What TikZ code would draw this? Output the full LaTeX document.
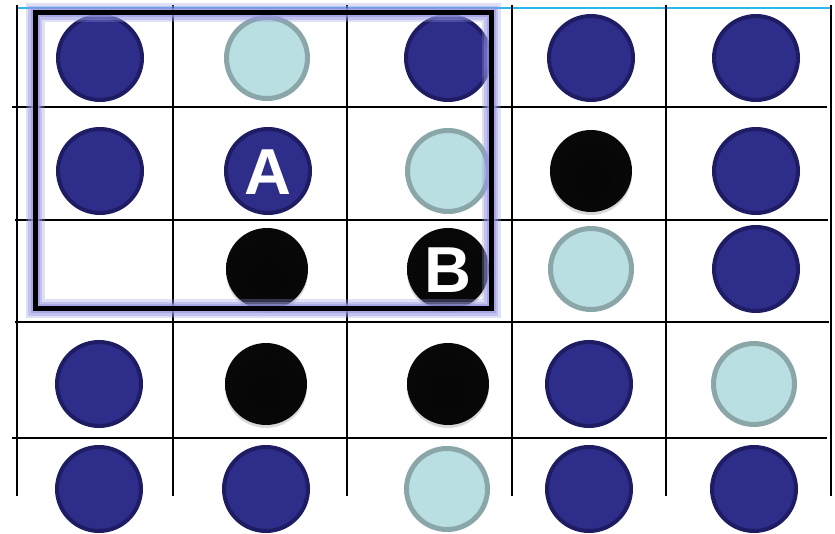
\documentclass[tikz,border=0pt]{standalone}
\usepackage{fontspec}
\setsansfont{Liberation Sans}
\usetikzlibrary{shadows}

\definecolor{stoneblue}{HTML}{2E2D89}
\definecolor{stoneblueedge}{HTML}{1E1C63}
\definecolor{stonelight}{HTML}{B9DFE2}
\definecolor{stonelightedge}{HTML}{8BA6A8}
\definecolor{topline}{HTML}{2AB8EA}
\definecolor{glow}{HTML}{9696E2}

\pgfdeclareradialshading{blackstoneshade}{\pgfpoint{0bp}{-6bp}}{%
  color(0bp)=(black!98); color(45bp)=(black!96); color(51bp)=(black!72); color(58bp)=(black!50)}

\begin{document}
\begin{tikzpicture}[
    x=1pt, y=-1pt,
    blue stone/.style={circle,draw=stoneblueedge,fill=stoneblue,line width=4pt,minimum size=84pt,inner sep=0pt},
    light stone/.style={circle,draw=stonelightedge,fill=stonelight,line width=5pt,minimum size=81pt,inner sep=0pt},
    black stone/.style={circle,shading=blackstoneshade,minimum size=82pt,inner sep=0pt,
      drop shadow={opacity=0.3,shadow xshift=0pt,shadow yshift=-3pt}},
    stone label/.style={text=white,font=\sffamily\bfseries\fontsize{65}{65}\selectfont},
    grid line/.style={draw=black,line width=1.6pt}
  ]
    \useasboundingbox (0,0) rectangle (835,534);

    % Board lines
    \draw[topline,line width=2pt] (17,8) -- (831,8);
    \draw[grid line] (12,107) -- (827,107);
    \draw[grid line] (15,220) -- (828,220);
    \draw[grid line] (15,322) -- (829,322);
    \draw[grid line] (12,438) -- (827,438);
    \draw[grid line] (17,5) -- (17,496);
    \draw[grid line] (173,5) -- (173,496);
    \draw[grid line] (347,5) -- (347,496);
    \draw[grid line] (512,5) -- (512,496);
    \draw[grid line] (666,5) -- (666,496);
    \draw[grid line] (831,5) -- (831,496);

    % Row 1
    \node[blue stone]  (s11) at (100,58) {};
    \node[light stone] (s12) at (267,58) {};
    \node[blue stone]  (s13) at (448,58) {};
    \node[blue stone]  (s14) at (591,58) {};
    \node[blue stone]  (s15) at (756,58) {};

    % Row 2
    \node[blue stone]  (s21) at (100,171) {};
    \node[blue stone]  (A)   at (268,171) {};
    \node[light stone] (s23) at (448,171) {};
    \node[black stone] (s24) at (591,171) {};
    \node[blue stone]  (s25) at (756,171) {};

    % Row 3
    \node[black stone] (s32) at (267,269) {};
    \node[black stone] (B)   at (448,269) {};
    \node[light stone] (s34) at (591,269) {};
    \node[blue stone]  (s35) at (756,269) {};

    % Row 4
    \node[blue stone]  (s41) at (99,384) {};
    \node[black stone] (s42) at (266,384) {};
    \node[black stone] (s43) at (448,384) {};
    \node[blue stone]  (s44) at (589,384) {};
    \node[light stone] (s45) at (754,384) {};

    % Row 5
    \node[blue stone]  (s51) at (99,489) {};
    \node[blue stone]  (s52) at (266,489) {};
    \node[light stone] (s53) at (447,489) {};
    \node[blue stone]  (s54) at (589,489) {};
    \node[blue stone]  (s55) at (754,489) {};

    % Letters on the two marked stones
    \node[stone label] at ([yshift=-1pt]A) {A};
    \node[stone label] at ([yshift=-1pt]B) {B};

    % Highlighted region with glow
    \draw[glow,line width=19pt,opacity=0.3] (35,13) rectangle (491,309);
    \draw[glow,line width=14pt,opacity=0.4] (35,13) rectangle (491,309);
    \draw[glow,line width=9pt,opacity=0.6] (35,13) rectangle (491,309);
    \draw[black,line width=5pt] (35,13) rectangle (491,309);
\end{tikzpicture}
\end{document}
